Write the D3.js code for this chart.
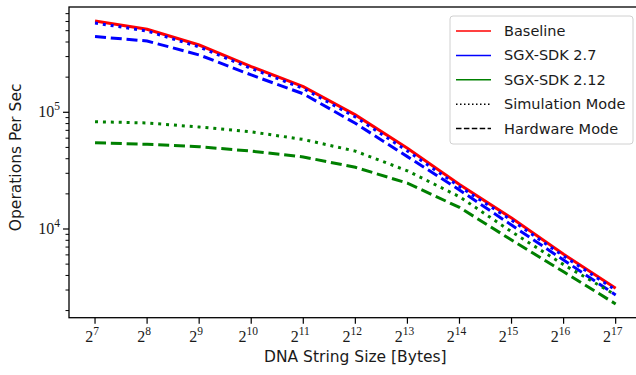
<html>
<head>
<script src="https://d3js.org/d3.v7.min.js"></script>
<style>
  body { margin: 0; background: white; }
  svg { display: block; }
  .lbl { font-family: "DejaVu Sans", sans-serif; font-size: 15.5px; fill: #1a1a1a; }
  .leg { font-family: "DejaVu Sans", sans-serif; font-size: 14.5px; fill: #1a1a1a; }
  .tick-lbl { font-family: "Liberation Serif", "DejaVu Serif", serif; font-size: 16px; fill: #1a1a1a; }
</style>
</head>
<body>
<svg width="636" height="375"></svg>
<script>
// x values are powers of two (exponents)
var exps = [7, 8, 9, 10, 11, 12, 13, 14, 15, 16, 17];

// operations per sec
var baseline   = [605000, 514000, 377000, 246000, 166000, 95000, 49200, 24100, 12400, 6070, 3100];
var sdk27Sim   = [582000, 497000, 363000, 237000, 160000, 91000, 46600, 23100, 11900, 5870, 3000];
var sdk27Hw    = [445000, 408000, 310000, 209000, 144000, 80500, 41700, 21600, 10800, 5420, 2720];
var sdk212Sim  = [83000, 81000, 74800, 68000, 58500, 46500, 31500, 18900, 9480, 4950, 2720];
var sdk212Hw   = [54800, 53200, 50700, 46500, 41400, 33800, 24700, 15300, 8050, 4300, 2280];

var yMajor = [4, 5];
var legendLabels = ["Baseline", "SGX-SDK 2.7", "SGX-SDK 2.12", "Simulation Mode", "Hardware Mode"];

var svg = d3.select("svg");
var pLeft = 69, pTop = 7, pBottom = 317.7, pRight = 641.7;

var x = d3.scaleLog().base(2).domain([Math.pow(2, 6.5), Math.pow(2, 17.5)]).range([pLeft, pRight]);
var y = d3.scaleLog().domain([Math.pow(10, 3.24), Math.pow(10, 5.902)]).range([pBottom, pTop]);

var series = [
  {vals: baseline,  color: "#ff0000", dash: null},
  {vals: sdk27Sim,  color: "#0000ff", dash: "3,4.9"},
  {vals: sdk27Hw,   color: "#0000ff", dash: "11,4.8"},
  {vals: sdk212Sim, color: "#008000", dash: "3,4.9"},
  {vals: sdk212Hw,  color: "#008000", dash: "11,4.8"}
];

var line = d3.line()
  .x(function(d) { return x(Math.pow(2, d[0])); })
  .y(function(d) { return y(d[1]); });

series.forEach(function(s) {
  svg.append("path")
    .datum(exps.map(function(e, i) { return [e, s.vals[i]]; }))
    .attr("d", line)
    .attr("fill", "none")
    .attr("stroke", s.color)
    .attr("stroke-width", 3)
    .attr("stroke-dasharray", s.dash);
});

// y minor ticks
var minor = [];
[3, 4, 5].forEach(function(p) {
  for (var m = 2; m <= 9; m++) {
    var v = m * Math.pow(10, p);
    if (y(v) >= pTop && y(v) <= pBottom) minor.push(v);
  }
});

var yAxis = svg.append("g");
yAxis.selectAll(".mn").data(minor).enter().append("line")
  .attr("x1", pLeft - 3.5).attr("x2", pLeft)
  .attr("y1", function(d) { return y(d); }).attr("y2", function(d) { return y(d); })
  .attr("stroke", "black").attr("stroke-width", 1);
yAxis.selectAll(".mj").data(yMajor).enter().append("line")
  .attr("x1", pLeft - 6).attr("x2", pLeft)
  .attr("y1", function(d) { return y(Math.pow(10, d)); }).attr("y2", function(d) { return y(Math.pow(10, d)); })
  .attr("stroke", "black").attr("stroke-width", 1.2);
var yl = yAxis.selectAll(".yl").data(yMajor).enter().append("text")
  .attr("class", "tick-lbl")
  .attr("x", pLeft - 9)
  .attr("y", function(d) { return y(Math.pow(10, d)) + 5; })
  .attr("text-anchor", "end");
yl.append("tspan").text("10");
yl.append("tspan").attr("dy", -7).attr("font-size", 11.5).text(function(d) { return d; });

// x ticks
var xAxis = svg.append("g");
xAxis.selectAll(".xt").data(exps).enter().append("line")
  .attr("x1", function(d) { return x(Math.pow(2, d)); }).attr("x2", function(d) { return x(Math.pow(2, d)); })
  .attr("y1", pBottom).attr("y2", pBottom + 6)
  .attr("stroke", "black").attr("stroke-width", 1.2);
var xl = xAxis.selectAll(".xl").data(exps).enter().append("text")
  .attr("class", "tick-lbl")
  .attr("x", function(d) { return x(Math.pow(2, d)) - 3; })
  .attr("y", pBottom + 24)
  .attr("text-anchor", "middle");
xl.append("tspan").text("2");
xl.append("tspan").attr("dy", -7).attr("font-size", 11.5).text(function(d) { return d; });

// spines
svg.append("rect")
  .attr("x", pLeft).attr("y", pTop)
  .attr("width", pRight - pLeft).attr("height", pBottom - pTop)
  .attr("fill", "none").attr("stroke", "black").attr("stroke-width", 1.3);

// axis labels
svg.append("text").attr("class", "lbl")
  .attr("x", (pLeft + pRight) / 2).attr("y", 362)
  .attr("text-anchor", "middle")
  .text("DNA String Size [Bytes]");
svg.append("text").attr("class", "lbl")
  .attr("transform", "translate(21," + ((pTop + pBottom) / 2 - 5) + ") rotate(-90)")
  .attr("text-anchor", "middle")
  .text("Operations Per Sec");

// legend
var lg = svg.append("g");
lg.append("rect")
  .attr("x", 450).attr("y", 16).attr("width", 183).attr("height", 128)
  .attr("rx", 3).attr("fill", "white").attr("fill-opacity", 0.8)
  .attr("stroke", "#d0d0d0").attr("stroke-width", 1);
var handles = [
  {color: "#ff0000", dash: null},
  {color: "#0000ff", dash: null},
  {color: "#008000", dash: null},
  {color: "black", dash: "1.5,2.5"},
  {color: "black", dash: "5.5,2.4"}
];
legendLabels.forEach(function(t, i) {
  var yy = 31 + i * 24.4;
  lg.append("line")
    .attr("x1", 456).attr("x2", 491).attr("y1", yy).attr("y2", yy)
    .attr("stroke", handles[i].color).attr("stroke-width", 1.5)
    .attr("stroke-dasharray", handles[i].dash);
  lg.append("text").attr("class", "leg")
    .attr("x", 504).attr("y", yy + 5)
    .text(t);
});
</script>
</body>
</html>
